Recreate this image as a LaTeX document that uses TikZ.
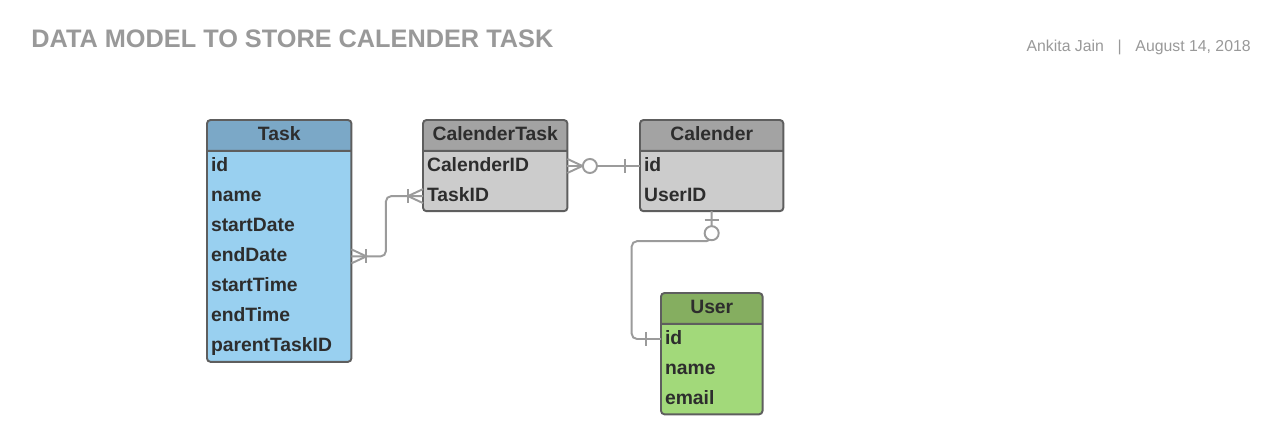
\documentclass[tikz,border=0pt]{standalone}
\usepackage{fontspec}
\setmainfont{Liberation Sans}
\usetikzlibrary{positioning,backgrounds}
\definecolor{taskhead}{RGB}{123,168,199}
\definecolor{taskbody}{RGB}{153,208,240}
\definecolor{grayhead}{RGB}{163,163,163}
\definecolor{graybody}{RGB}{204,204,204}
\definecolor{userhead}{RGB}{133,174,96}
\definecolor{userbody}{RGB}{162,217,122}
\definecolor{frame}{RGB}{94,94,94}
\definecolor{ink}{RGB}{45,45,45}
\definecolor{linkgray}{RGB}{155,155,155}
\definecolor{titlegray}{RGB}{153,153,153}
\begin{document}
\begin{tikzpicture}[x=0.02cm,y=-0.02cm,
		hdr/.style={anchor=north west,minimum width=#1,minimum height=17.6pt,inner sep=0pt,outer sep=0pt,text height=8pt,text depth=2.2pt,font=\fontsize{11}{13}\selectfont\bfseries,text=ink},
		row/.style={inner xsep=2.3pt,inner ysep=0pt,outer sep=0pt,text width=#1,align=left,minimum height=17.15pt,text height=8pt,text depth=2.2pt,font=\fontsize{11}{13}\selectfont\bfseries,text=ink},
		box/.style={draw=frame,line width=1.1pt,rounded corners=2pt},
		link/.style={draw=linkgray,line width=1.1pt},
		elbow/.style={link,rounded corners=3pt}]
		\node [anchor=base west,inner sep=0pt,font=\fontsize{14.4}{17}\selectfont\bfseries,text=titlegray] at (31,47.5) (title) {DATA MODEL TO STORE CALENDER TASK};
		\node [anchor=base east,inner sep=0pt,font=\fontsize{9}{11}\selectfont,text=titlegray] at (1251,51) (byline) {Ankita Jain\hspace{7.8pt}|\hspace{7.8pt}August 14, 2018};
		\node [hdr=82.2pt] at (207,120) (task-hdr) {Task};
		\foreach \r [remember=\r as \p (initially hdr)] in {id,name,startDate,endDate,startTime,endTime,parentTaskID}
			\node [row=77.6pt,below=0pt of task-\p] (task-\r) {\r};
		\node [hdr=82.2pt] at (423,120) (ct-hdr) {CalenderTask};
		\foreach \r [remember=\r as \p (initially hdr)] in {CalenderID,TaskID}
			\node [row=77.6pt,below=0pt of ct-\p] (ct-\r) {\r};
		\node [hdr=81.6pt] at (640,120) (cal-hdr) {Calender};
		\foreach \r [remember=\r as \p (initially hdr)] in {id,UserID}
			\node [row=77pt,below=0pt of cal-\p] (cal-\r) {\r};
		\node [hdr=57.8pt] at (661,293) (user-hdr) {User};
		\foreach \r [remember=\r as \p (initially hdr)] in {id,name,email}
			\node [row=53.2pt,below=0pt of user-\p] (user-\r) {\r};
		\begin{scope}[on background layer]
			\fill [white] (0,0) rectangle (1280,443);
			\foreach \t/\l/\h/\b in {task/parentTaskID/taskhead/taskbody,ct/TaskID/grayhead/graybody,cal/UserID/grayhead/graybody,user/email/userhead/userbody}{
				\fill [\b,rounded corners=2pt] (\t-hdr.north west) rectangle (\t-\l.south east);
				\fill [\h] (\t-hdr.south west) [rounded corners=2pt] -- (\t-hdr.north west) -- (\t-hdr.north east) [sharp corners] -- (\t-hdr.south east) -- cycle;
			}
		\end{scope}
		\foreach \t/\l in {task/parentTaskID,ct/TaskID,cal/UserID,user/email}
			\draw [box] (\t-hdr.north west) rectangle (\t-\l.south east) (\t-hdr.south west) -- (\t-hdr.south east);
		\draw [link] (ct-CalenderID.east) -- (cal-id.west);
		\draw [link] ([yshift=4pt]ct-CalenderID.east) -- ++(15,7) -- ++(-15,7);
		\draw [link,fill=white] (ct-CalenderID.east) ++(22.5,0) circle [radius=4pt];
		\draw [link] (cal-id.west) ++(-15,-7) -- ++(0,14);
		\draw [elbow] (task-endDate.east) -- ++(34.5,0) |- (ct-TaskID.west);
		\draw [link] ([yshift=4pt]task-endDate.east) -- ++(15,7) -- ++(-15,7);
		\draw [link] (task-endDate.east) ++(15,-7) -- ++(0,14);
		\draw [link] ([yshift=4pt]ct-TaskID.west) -- ++(-15,7) -- ++(15,7);
		\draw [link] (ct-TaskID.west) ++(-15,-7) -- ++(0,14);
		\draw [elbow] (cal-UserID.south) -- ++(0,30) -- ++(-80,0) |- (user-id.west);
		\draw [link] (cal-UserID.south) ++(-7,8.5) -- ++(14,0);
		\draw [link,fill=white] (cal-UserID.south) ++(0,22) circle [radius=4pt];
		\draw [link] (user-id.west) ++(-15,-7) -- ++(0,14);
	\end{tikzpicture}
\end{document}
